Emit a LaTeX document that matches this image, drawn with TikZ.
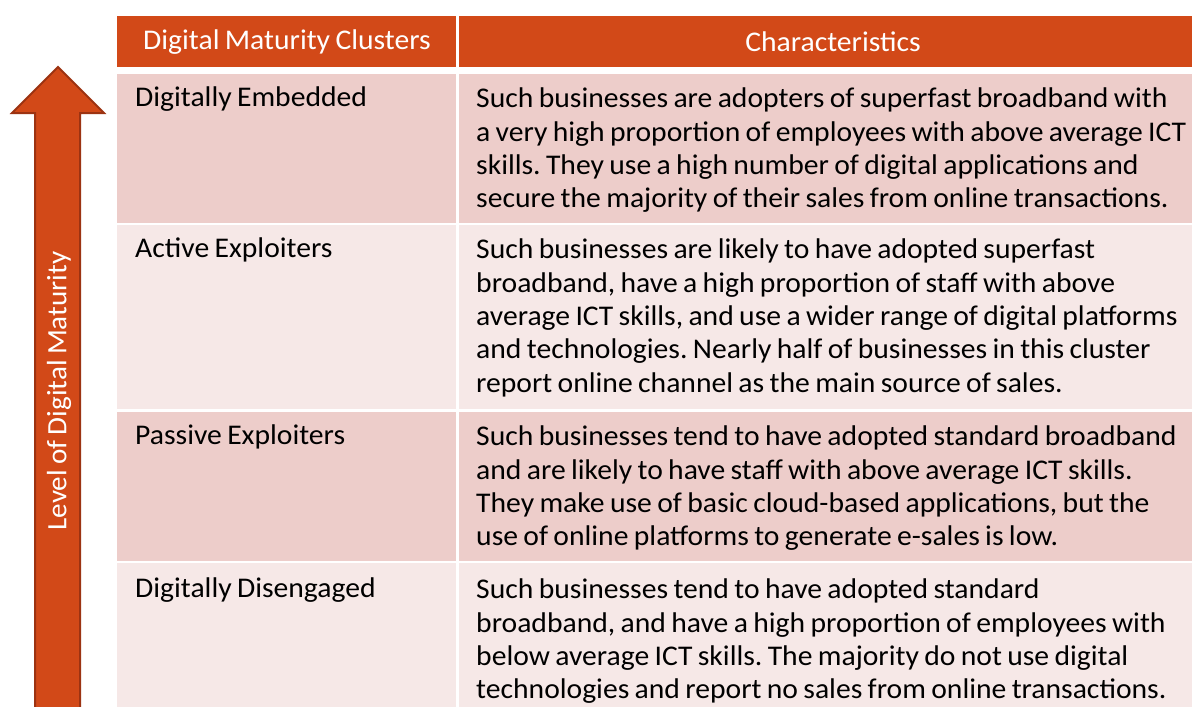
\documentclass[tikz,border=0pt]{standalone}
\usepackage{fontspec}
\setmainfont{Carlito}[FakeStretch=1.04,WordSpace=0.8]
\frenchspacing
\definecolor{hdr}{HTML}{D24918}
\definecolor{hdrdark}{HTML}{9C3312}
\definecolor{rowA}{HTML}{EDCDCA}
\definecolor{rowB}{HTML}{F6E8E7}
\begin{document}
\begin{tikzpicture}[x=1pt,y=-1pt,
  hdrcell/.style={fill=hdr,draw=none},
  cellA/.style={fill=rowA,draw=none},
  cellB/.style={fill=rowB,draw=none},
  hdrtext/.style={text=white,font=\fontsize{28.5}{33}\selectfont,anchor=center,inner sep=0pt},
  nametext/.style={text=black,font=\fontsize{28.5}{33}\selectfont,anchor=north west,inner sep=0pt},
  desctext/.style={text=black,font=\fontsize{28.5}{33.3}\selectfont,anchor=north west,align=left,inner sep=0pt},
  arrowshape/.style={fill=hdr,draw=hdrdark,line width=2pt,line join=miter}]
\useasboundingbox (0,0) rectangle (1192,707);
\clip (0,0) rectangle (1192,707);
\fill[white] (0,0) rectangle (1192,707);
% arrow
\draw[arrowshape] (58,67) -- (104,113) -- (80,113) -- (80,720) -- (35,720) -- (35,113) -- (12,113) -- cycle;
\node[text=white,font=\fontsize{28}{33}\selectfont,rotate=90,inner sep=0pt] (lvl) at (59,391) {Level of Digital Maturity};
% header
\path[hdrcell] (117,16) rectangle (456,67);
\path[hdrcell] (458.5,16) rectangle (1192,67);
\node[hdrtext] (h1) at (287,42) {Digital Maturity Clusters};
\node[hdrtext] (h2) at (833,42) {Characteristics};
% rows
\path[cellA] (117,74) rectangle (456,222.5);
\path[cellA] (458.5,74) rectangle (1192,222.5);
\path[cellB] (117,225) rectangle (456,408.5);
\path[cellB] (458.5,225) rectangle (1192,408.5);
\path[cellA] (117,411.5) rectangle (456,560.5);
\path[cellA] (458.5,411.5) rectangle (1192,560.5);
\path[cellB] (117,563) rectangle (456,720);
\path[cellB] (458.5,563) rectangle (1192,720);
% names
\node[nametext] (n1) at (135,87) {Digitally Embedded};
\node[nametext] (n2) at (135,238) {Active Exploiters};
\node[nametext] (n3) at (135,425) {Passive Exploiters};
\node[nametext] (n4) at (135,578) {Digitally Disengaged};
% descriptions
\node[desctext] (d1) at (476,88) {Such businesses are adopters of superfast broadband with\\a very high proportion of employees with above average ICT\\skills. They use a high number of digital applications and\\secure the majority of their sales from online transactions.};
\node[desctext] (d2) at (476,239) {Such businesses are likely to have adopted superfast\\broadband, have a high proportion of staff with above\\average ICT skills, and use a wider range of digital platforms\\and technologies. Nearly half of businesses in this cluster\\report online channel as the main source of sales.};
\node[desctext] (d3) at (476,426) {Such businesses tend to have adopted standard broadband\\and are likely to have staff with above average ICT skills.\\They make use of basic cloud-based applications, but the\\use of online platforms to generate e-sales is low.};
\node[desctext] (d4) at (476,579) {Such businesses tend to have adopted standard\\broadband, and have a high proportion of employees with\\below average ICT skills. The majority do not use digital\\technologies and report no sales from online transactions.};
\end{tikzpicture}
\end{document}
